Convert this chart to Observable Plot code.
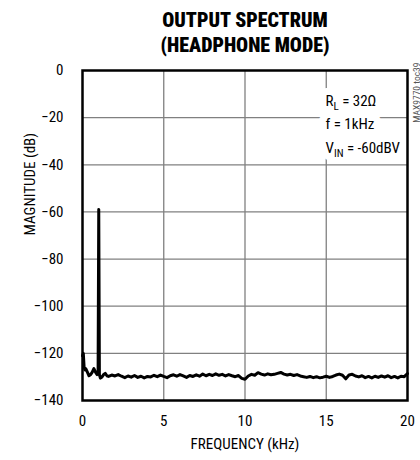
<!DOCTYPE html>
<html>
<head>
<meta charset="utf-8">
<script src="https://cdn.jsdelivr.net/npm/d3@7"></script>
<script src="https://cdn.jsdelivr.net/npm/@observablehq/plot@0.6"></script>
<style>
  html, body { margin: 0; padding: 0; background: #fff; }
  body { width: 420px; height: 460px; overflow: hidden; font-family: "Liberation Sans Narrow", "Arial Narrow", "Roboto Condensed", "DejaVu Sans Condensed", "Liberation Sans", sans-serif; }
  #title { height: 50px; padding-top: 8px; text-align: center; font-weight: 900; font-size: 20px; line-height: 25px; color: #000; padding-left: 70px; box-sizing: content-box; }
  #chart svg { display: block; }
</style>
</head>
<body>
<div id="title"></div>
<div id="chart"></div>
<script>
const titleLines = ["OUTPUT SPECTRUM", "(HEADPHONE MODE)"];
const xLabel = "FREQUENCY (kHz)";
const yLabel = "MAGNITUDE (dB)";
const xTicks = [0, 5, 10, 15, 20];
const yTicks = [0, -20, -40, -60, -80, -100, -120, -140];
const gridX = [5, 10, 15];
const gridY = [-20, -40, -60, -80, -100, -120];
const annotMain = ["R", "f = 1kHz", "V"];
const annotSub = ["L", "", "IN"];
const annotRest = [" = 32Ω", "", " = -60dBV"];
const watermark = "MAX9770 toc39";

const freqKHz = [
  0, 0.05, 0.1, 0.15, 0.2, 0.3, 0.4, 0.5, 0.6, 0.7, 0.8, 0.9, 0.96, 1.0, 1.04, 1.1, 1.2, 1.3, 1.4, 1.5,
  1.6, 1.8, 2.0, 2.2, 2.4, 2.6, 2.8, 3.0, 3.2, 3.4, 3.6, 3.8, 4.0, 4.2, 4.4, 4.6, 4.8, 5.0,
  5.2, 5.4, 5.6, 5.8, 6.0, 6.2, 6.4, 6.6, 6.8, 7.0, 7.2, 7.4, 7.6, 7.8, 8.0, 8.2, 8.4, 8.6, 8.8, 9.0,
  9.2, 9.4, 9.6, 9.8, 10.0, 10.2, 10.4, 10.6, 10.8, 11.0, 11.2, 11.4, 11.6, 11.8, 12.0, 12.2, 12.4, 12.6, 12.8, 13.0,
  13.2, 13.4, 13.6, 13.8, 14.0, 14.2, 14.4, 14.6, 14.8, 15.0, 15.2, 15.4, 15.6, 15.8, 16.0, 16.2, 16.4, 16.6, 16.8, 17.0,
  17.2, 17.4, 17.6, 17.8, 18.0, 18.2, 18.4, 18.6, 18.8, 19.0, 19.2, 19.4, 19.6, 19.8, 20.0
];
const magnitudeDb = [
  -121, -120, -126, -127, -126.5, -128, -129.5, -129, -128, -126.5, -128, -129, -128, -59, -129, -130.5, -130, -129, -128.5, -129.5,
  -129.8, -129.2, -129.6, -129.0, -129.7, -130.3, -129.6, -130.1, -129.4, -130.2, -129.7, -130.4, -129.8, -130.0, -129.3, -129.9, -129.2, -129.8,
  -130.3, -129.5, -129.1, -129.7, -129.0, -129.6, -130.2, -129.4, -129.8, -129.1, -129.7, -128.8, -129.5, -128.9, -129.4, -128.7, -129.3, -128.9, -129.6, -129.0,
  -129.5, -129.9, -129.4, -130.6, -131.0, -129.6, -128.9, -129.3, -128.2, -128.8, -129.2, -128.7, -129.1, -128.9, -128.5, -128.1, -128.8, -129.2, -128.9, -129.4,
  -129.0, -129.6, -129.9, -130.2, -129.8, -130.3, -129.9, -130.4, -130.1, -129.7, -130.2, -129.8, -129.2, -128.8, -129.3, -130.8, -129.2, -128.9, -129.6, -130.0,
  -129.5, -130.3, -129.8, -130.4, -129.7, -130.2, -129.6, -130.1, -129.5, -130.3, -129.8, -130.4, -129.7, -129.9, -128.6
];

const spectrum = freqKHz.map((f, i) => ({f, db: magnitudeDb[i]}));
const annotText = annotMain.map((m, i) => m + annotSub[i] + annotRest[i]).join("\n");

document.getElementById("title").innerHTML = titleLines.map(t => `<div>${t}</div>`).join("");

const annotOpts = {frameAnchor: "top-right", textAnchor: "start", lineAnchor: "top", dx: -82, dy: 19, fontSize: 15, lineHeight: 1.55};

const chart = Plot.plot({
  width: 420,
  height: 402,
  marginTop: 12,
  marginLeft: 82,
  marginRight: 13,
  marginBottom: 60,
  style: {fontFamily: "'Liberation Sans Narrow', 'Arial Narrow', 'Roboto Condensed', 'DejaVu Sans Condensed', 'Liberation Sans', sans-serif", fontSize: "14px", color: "#000", background: "#fff"},
  x: {domain: [0, 20], ticks: xTicks, label: null},
  y: {domain: [-140, 0], ticks: yTicks, label: null},
  marks: [
    Plot.ruleX(gridX, {stroke: "#808080", strokeWidth: 1.3}),
    Plot.ruleY(gridY, {stroke: "#808080", strokeWidth: 1.3}),
    Plot.text([annotText], {...annotOpts, fill: "#fff", stroke: "#fff", strokeWidth: 14}),
    Plot.text([annotText], {...annotOpts, fill: "#000"}),
    Plot.line(spectrum, {x: "f", y: "db", stroke: "#000", strokeWidth: 3, strokeLinejoin: "round"}),
    Plot.frame({stroke: "#000", strokeWidth: 2.5}),
    Plot.text([watermark], {frameAnchor: "top-right", rotate: -90, textAnchor: "end", dx: 5.5, dy: -8, fontSize: 9.5, fill: "#555"}),
    Plot.axisX(xTicks, {tickSize: 0, tickPadding: 15, fontSize: 15, label: null}),
    Plot.axisY(yTicks, {tickSize: 0, tickPadding: 19, fontSize: 15, label: null}),
    Plot.text([xLabel], {frameAnchor: "bottom", dy: 48, fontSize: 15, fill: "#000"}),
    Plot.text([yLabel], {frameAnchor: "left", rotate: -90, dx: -52, dy: 0, fontSize: 15, fill: "#000"})
  ]
});

// subscripts in the annotation
const ns = "http://www.w3.org/2000/svg";
chart.querySelectorAll("text").forEach(t => {
  const ts = t.querySelectorAll("tspan");
  if (ts.length === annotMain.length && t.textContent.includes("Ω")) {
    ts.forEach((tsp, i) => {
      if (!annotSub[i]) return;
      tsp.textContent = "";
      const a = document.createElementNS(ns, "tspan"); a.textContent = annotMain[i];
      const b = document.createElementNS(ns, "tspan"); b.textContent = annotSub[i];
      b.setAttribute("dy", "4"); b.setAttribute("font-size", "11");
      const c = document.createElementNS(ns, "tspan"); c.textContent = annotRest[i];
      c.setAttribute("dy", "-4");
      tsp.append(a, b, c);
    });
  }
});

document.getElementById("chart").append(chart);
</script>
</body>
</html>
